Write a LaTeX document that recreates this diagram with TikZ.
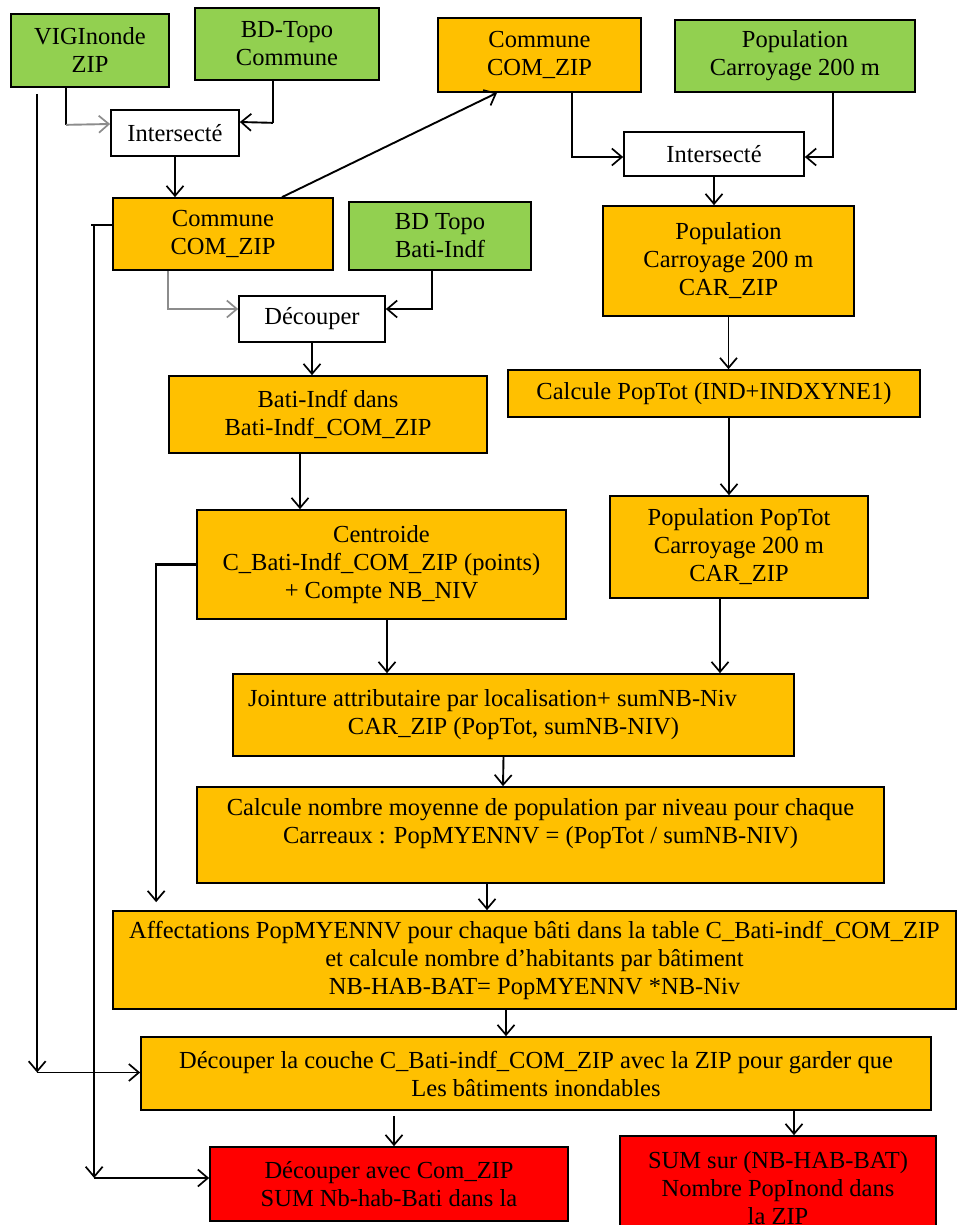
\documentclass[tikz,border=0pt]{standalone}
\usepackage{fontspec}
\setmainfont{Liberation Serif}
\usetikzlibrary{arrows.meta,calc}
\definecolor{gold}{HTML}{FFC000}
\definecolor{leaf}{HTML}{92D050}
\definecolor{alarm}{HTML}{FF0000}
\begin{document}
\begin{tikzpicture}[x=1pt,y=-1pt,
  box/.style={draw=black, line width=1.7pt, inner sep=0pt, align=center,
              font=\fontsize{24.5}{28}\selectfont},
  src/.style={box, fill=leaf},
  proc/.style={box, fill=gold},
  op/.style={box, fill=white},
  res/.style={box, fill=alarm},
  link/.style={line width=1.9pt, draw=black},
  heavy/.style={line width=2.9pt},
  ghost/.style={draw=black!45},
  >={Straight Barb[length=10pt,width=17pt,line width=1.7pt]},
]
\clip (0,0) rectangle (959,1225);
\fill[white] (0,0) rectangle (959,1225);

% source layers
\node[src, minimum width=158pt, minimum height=73pt] (vig) at (90,50.5) {VIGInonde\\ZIP};
\node[src, minimum width=184pt, minimum height=72pt] (bdc) at (287,44) {BD-Topo\\Commune};
\node[proc, minimum width=203pt, minimum height=74pt] (com2) at (539.5,55) {Commune\\COM\_ZIP};
\node[src, minimum width=240pt, minimum height=72pt] (pop1) at (795,56) {Population\\Carroyage 200 m};

% operations and intermediate layers
\node[op, minimum width=128pt, minimum height=46pt] (int1) at (175,133) {Intersecté};
\node[op, minimum width=180pt, minimum height=44pt] (int2) at (714,154) {Intersecté};
\node[proc, minimum width=220pt, minimum height=72pt] (com1) at (223,234) {Commune\\COM\_ZIP};
\node[src, minimum width=182pt, minimum height=68pt] (bdb) at (440,236) {BD Topo\\Bati-Indf};
\node[proc, minimum width=251pt, minimum height=110pt] (car) at (728.5,261) {Population\\Carroyage 200 m\\CAR\_ZIP};
\node[op, minimum width=146pt, minimum height=46pt] (dec) at (312,319) {Découper};
\node[proc, minimum width=318pt, minimum height=77pt] (bati) at (328,414.5) {Bati-Indf dans\\Bati-Indf\_COM\_ZIP};
\node[proc, minimum width=412pt, minimum height=47pt] (calc1) at (714,393.5) {Calcule PopTot (IND+INDXYNE1)};
\node[proc, minimum width=369pt, minimum height=109pt] (cent) at (381.5,564.5) {Centroide\\C\_Bati-Indf\_COM\_ZIP (points)\\+ Compte NB\_NIV};
\node[proc, minimum width=258pt, minimum height=102pt] (pop2) at (739,547) {Population PopTot\\Carroyage 200 m\\CAR\_ZIP};
\node[proc, minimum width=561pt, minimum height=82pt] (join) at (513.5,715) {Jointure attributaire par localisation+ sumNB-Niv\hspace*{42pt}\\CAR\_ZIP (PopTot, sumNB-NIV)};
\node[proc, minimum width=687pt, minimum height=96pt] (calc2) at (540.5,835) {Calcule nombre moyenne de population par niveau pour chaque\\Carreaux : PopMYENNV = (PopTot / sumNB-NIV)\\\mbox{}};
\node[proc, minimum width=843pt, minimum height=98pt] (aff) at (534.5,960) {Affectations PopMYENNV pour chaque bâti dans la table C\_Bati-indf\_COM\_ZIP\\et calcule nombre d’habitants par bâtiment\\NB-HAB-BAT= PopMYENNV *NB-Niv};
\node[proc, minimum width=790pt, minimum height=73pt] (dcz) at (536,1073.5) {Découper la couche C\_Bati-indf\_COM\_ZIP avec la ZIP pour garder que\\Les bâtiments inondables};

% results
\node[res, minimum width=358pt, minimum height=74pt] (red1) at (389,1184) {Découper avec Com\_ZIP\\SUM Nb-hab-Bati dans la};
\node[res, minimum width=316pt, minimum height=104pt] (red2) at (778,1188) {SUM sur (NB-HAB-BAT)\\Nombre PopInond dans\\la ZIP};

% first intersection
\draw[link,heavy] ($(vig.south)+(-24,0)$) -- ++(0,37) coordinate (vigk);
\draw[link,ghost,->] (vigk) -- ($(int1.west)+(0,-9)$);
\draw[link,heavy] ($(bdc.south)+(-14,0)$) -- ++(0,42) coordinate (bdck);
\draw[link,->] (bdck) -- ($(int1.east)+(0,-11)$);
\draw[link,->] (int1.south) -- (int1.south |- com1.north);
\draw[link,->] ($(com1.north)+(59,0)$) -- ($(com2.south)+(-42.5,0)$);

% population intersection
\draw[link,heavy,->] ($(com2.south)+(32.5,0)$) |- ($(int2.west)+(0,3)$);
\draw[link,heavy,->] ($(pop1.south)+(38,0)$) |- ($(int2.east)+(0,3)$);
\draw[link,->] (int2.south) -- (int2.south |- car.north);

% clipping the buildings
\draw[link,ghost,->] ($(com1.south)+(-55,0)$) |- ($(dec.west)+(0,-10)$);
\draw[link,heavy,->] ($(bdb.south)+(-8,0)$) |- ($(dec.east)+(0,-10)$);
\draw[link,->] (dec.south) -- (dec.south |- bati.north);

% main chain
\draw[link,->] (car.south) -- (car.south |- calc1.north);
\draw[link,->] ($(calc1.south)+(15,0)$) -- ($(pop2.north)+(-10,0)$);
\draw[link,->] ($(bati.south)+(-28,0)$) -- ($(cent.north)+(-81.5,0)$);
\draw[link,->] ($(cent.south)+(5.5,0)$) -- ($(join.north)+(-126.5,0)$);
\draw[link,->] ($(pop2.south)+(-19,0)$) -- ($(join.north)+(206.5,0)$);
\draw[link,->] ($(join.south)+(-10,0)$) -- ($(calc2.north)+(-37.5,0)$);
\draw[link,->] ($(calc2.south)+(-53.5,0)$) -- ($(aff.north)+(-47.5,0)$);
\draw[link,->] ($(aff.south)+(-28.5,0)$) -- ($(dcz.north)+(-30,0)$);
\draw[link,->] ($(dcz.south)+(-142,5)$) -- ($(red1.north)+(5,0)$);
\draw[link,->] ($(dcz.south)+(258,0)$) -- ($(red2.north)+(16,0)$);

% long side connectors
\coordinate (zipturn) at ($(dcz.west)+(-103,-1)$);
\draw[link,->] ($(vig.south west)+(27,6)$) -- (zipturn);
\draw[link,->] (zipturn) -- ($(dcz.west)+(0,-1)$);

\coordinate (comturn) at ($(red1.west)+(-115,-6)$);
\draw[link,heavy] ($(com1.west)+(0,-9)$) -- ($(com1.west)+(-21,-9)$);
\draw[link,->] ($(com1.west)+(-18,-9)$) -- (comturn);
\draw[link,->] (comturn) -- ($(red1.west)+(0,-6)$);

\draw[link,heavy] (cent.west) -- ($(cent.west)+(-41,0)$);
\draw[link,->] ($(cent.west)+(-40,0)$) -- ($(aff.north west)+(44,-8)$);
\end{tikzpicture}
\end{document}
